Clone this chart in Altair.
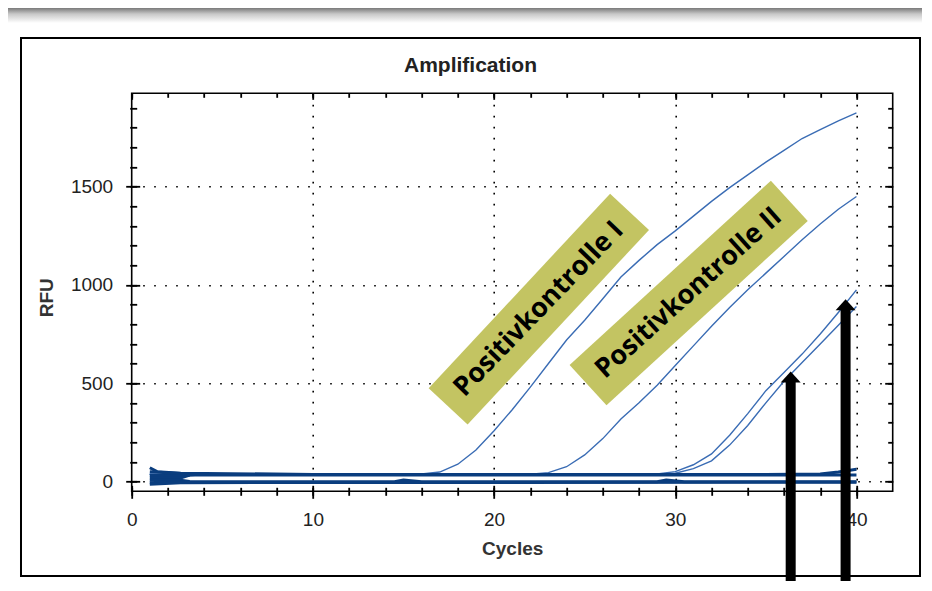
import altair as alt
import pandas as pd

# ---------------- data ----------------
cycles = list(range(1, 41))

pos_ctrl_1 = [38, 36, 35, 35, 36, 35, 35, 36, 35, 35, 36, 35, 35, 36, 36, 38,
              48, 88, 160, 258, 365, 480, 600, 720, 820, 930, 1040, 1125, 1205,
              1275, 1350, 1425, 1495, 1560, 1625, 1685, 1745, 1790, 1835, 1875]
pos_ctrl_2 = [36, 35, 35, 36, 35, 35, 35, 36, 35, 35, 35, 36, 35, 35, 35, 36,
              35, 35, 35, 36, 36, 37, 45, 75, 135, 218, 318, 400, 490, 590,
              690, 790, 885, 975, 1060, 1145, 1230, 1310, 1385, 1450]
sample_a = [36, 35, 35, 35, 36, 35, 35, 35, 36, 35, 35, 35, 36, 35, 35, 35,
            36, 35, 35, 35, 36, 35, 35, 35, 36, 35, 35, 36, 38,
            50, 85, 140, 235, 345, 462, 555, 648, 750, 860, 975]
sample_b = [35, 35, 36, 35, 35, 35, 36, 35, 35, 35, 36, 35, 35, 35, 36, 35,
            35, 35, 36, 35, 35, 35, 36, 35, 35, 35, 36, 35, 36,
            42, 65, 105, 185, 285, 400, 510, 605, 700, 795, 890]

# negative wells (flat baselines), sparse cycle / value pairs
neg1_cycle = [1, 1.4, 2.7, 10, 20, 30, 35, 38, 39, 40]
neg1_rfu = [70, 50, 42, 36, 36, 36, 36, 38, 48, 62]
neg2_cycle = [1, 2.7, 3.5, 40]
neg2_rfu = [30, 30, 33, 33]
neg3_cycle = [1, 2.7, 3.2]
neg3_rfu = [18, 18, 33]
neg4_cycle = [1, 2.7, 3.2]
neg4_rfu = [6, 6, 0]
neg5_cycle = [1, 2.7, 14.5, 15, 16, 29, 29.5, 30.5, 40]
neg5_rfu = [-6, -2, -1, 7, -1, -1, 8, -1, -1]
neg6_cycle = [1, 2.7, 40]
neg6_rfu = [-14, -6, -4]
neg7_cycle = [1, 2.7]
neg7_rfu = [50, 40]

label_texts = ["Positivkontrolle I", "Positivkontrolle II"]
label_cycle = [22.47, 30.74]
label_rfu = [877, 959]

arrow_cycle = [36.37, 39.4]
arrow_rfu = [559, 927]

x_major = [0, 10, 20, 30, 40]
x_minor = list(range(0, 41, 2))
y_major = [0, 500, 1000, 1500]
y_minor = list(range(0, 2000, 100))

# ---------------- tables ----------------
amp_rows = []
for name, vals in [("PK I", pos_ctrl_1), ("PK II", pos_ctrl_2),
                   ("Probe A", sample_a), ("Probe B", sample_b)]:
    for c, v in zip(cycles, vals):
        amp_rows.append({"series": name, "cycle": c, "rfu": v})
df_amp = pd.DataFrame(amp_rows)

neg_rows = []
for name, cs, vs in [("n1", neg1_cycle, neg1_rfu), ("n2", neg2_cycle, neg2_rfu),
                     ("n3", neg3_cycle, neg3_rfu), ("n4", neg4_cycle, neg4_rfu),
                     ("n5", neg5_cycle, neg5_rfu), ("n6", neg6_cycle, neg6_rfu),
                     ("n7", neg7_cycle, neg7_rfu)]:
    for c, v in zip(cs, vs):
        neg_rows.append({"series": name, "cycle": c, "rfu": v})
df_neg = pd.DataFrame(neg_rows)

df_lab = pd.DataFrame({"text": label_texts, "cycle": label_cycle, "rfu": label_rfu})
df_arr = pd.DataFrame({"cycle": arrow_cycle, "rfu": arrow_rfu})
one = pd.DataFrame({"k": [0]})

# ---------------- styling ----------------
FONT = "Liberation Sans"
W, H = 761, 398
PL, PT = 123.7, 85.3
PR, PB = 29.3, 89.7

xs = alt.Scale(domain=[0, 42], nice=False, zero=False)
ys = alt.Scale(domain=[-50, 1975], nice=False, zero=False)

tick_common = dict(domain=False, grid=False, tickColor="#000", tickWidth=1.8,
                   title=None)

ax_x_major = alt.Axis(orient="bottom", values=x_major, offset=-6, tickSize=13,
                      domain=False, grid=False, tickColor="#000", tickWidth=1.8,
                      labelFont=FONT, labelFontSize=19, labelColor="#222",
                      labelPadding=12, labelFlush=False, title="Cycles",
                      titleFont=FONT, titleFontSize=19, titleFontWeight="bold",
                      titleColor="#333", titlePadding=10)
ax_y_major = alt.Axis(orient="left", values=y_major, offset=-8, tickSize=14,
                      domain=False, grid=False, tickColor="#000", tickWidth=1.8,
                      labelFont=FONT, labelFontSize=19, labelColor="#222",
                      labelPadding=13, labelFlush=False, format="d", title="RFU",
                      titleFont=FONT, titleFontSize=19, titleFontWeight="bold",
                      titleColor="#333", titlePadding=14, titleY=204)
ax_x_minor = alt.Axis(orient="bottom", values=x_minor, offset=-4, tickSize=8,
                      labels=False, **tick_common)
ax_y_minor = alt.Axis(orient="left", values=y_minor, offset=-5, tickSize=7,
                      labels=False, **tick_common)
ax_x_top_minor = alt.Axis(orient="top", values=x_minor, offset=-4, tickSize=4,
                          labels=False, **tick_common)
ax_y_right_minor = alt.Axis(orient="right", values=y_minor, offset=-5, tickSize=5,
                            labels=False, **tick_common)
ax_x_top_major = alt.Axis(orient="top", values=x_major, offset=-6, tickSize=6,
                          labels=False, **tick_common)
ax_y_right_major = alt.Axis(orient="right", values=y_major, offset=-8, tickSize=8,
                            labels=False, **tick_common)
ax_x_grid = alt.Axis(orient="bottom", values=[10, 20, 30, 40], grid=True,
                     gridColor="#000", gridWidth=1.6, gridDash=[1.6, 9.4],
                     ticks=False, labels=False, domain=False, title=None)
ax_y_grid = alt.Axis(orient="left", values=y_major, grid=True,
                     gridColor="#000", gridWidth=1.6, gridDash=[1.6, 9.4],
                     ticks=False, labels=False, domain=False, title=None)

# ---------------- decorations ----------------
strip = alt.Chart(one).mark_rect(
    fill=alt.LinearGradient(gradient="linear", x1=0, y1=0, x2=0, y2=1,
                            stops=[alt.GradientStop(color="#7a7a7a", offset=0),
                                   alt.GradientStop(color="#c8c8c8", offset=0.4),
                                   alt.GradientStop(color="#ffffff", offset=1)])
).encode(x=alt.value(-PL), x2=alt.value(790.3), y=alt.value(-PT), y2=alt.value(-70.3))

frame = alt.Chart(one).mark_rect(fill="transparent", stroke="#000", strokeWidth=2).encode(
    x=alt.value(-110.7), x2=alt.value(788.3), y=alt.value(-55.3), y2=alt.value(482.7))

title = alt.Chart(one).mark_text(text="Amplification", font=FONT, fontSize=21,
                                 fontWeight="bold", color="#222",
                                 baseline="middle", align="center").encode(
    x=alt.value(338.8), y=alt.value(-27.3))

# ---------------- data layers ----------------
amp = alt.Chart(df_amp).mark_line(color="#3a6cb4", strokeWidth=1.4).encode(
    x=alt.X("cycle:Q", scale=xs, axis=ax_x_major),
    y=alt.Y("rfu:Q", scale=ys, axis=ax_y_major),
    detail="series:N")

neg = alt.Chart(df_neg).mark_line(color="#0a3d7e", strokeWidth=3).encode(
    x=alt.X("cycle:Q", scale=xs, axis=ax_x_minor),
    y=alt.Y("rfu:Q", scale=ys, axis=ax_y_minor),
    detail="series:N")

BOX = "M-1,-0.2L1,-0.2L1,0.2L-1,0.2Z"
box1 = alt.Chart(df_lab.iloc[[0]]).mark_point(
    shape=BOX, size=266 ** 2, angle=313, filled=True, fill="#c3c462",
    opacity=1, strokeWidth=0).encode(
    x=alt.X("cycle:Q", scale=xs, axis=ax_x_top_minor),
    y=alt.Y("rfu:Q", scale=ys, axis=ax_y_right_minor))
box2 = alt.Chart(df_lab.iloc[[1]]).mark_point(
    shape=BOX, size=273 ** 2, angle=317.5, filled=True, fill="#c3c462",
    opacity=1, strokeWidth=0).encode(
    x=alt.X("cycle:Q", scale=xs, axis=None),
    y=alt.Y("rfu:Q", scale=ys, axis=None))

txt1 = alt.Chart(df_lab.iloc[[0]]).mark_text(
    font="Open Sans", fontSize=27, fontWeight="bold", color="#000",
    angle=314, align="center", baseline="middle").encode(
    x=alt.X("cycle:Q", scale=xs, axis=ax_x_top_major),
    y=alt.Y("rfu:Q", scale=ys, axis=ax_y_right_major),
    text="text:N")
txt2 = alt.Chart(df_lab.iloc[[1]]).mark_text(
    font="Open Sans", fontSize=27, fontWeight="bold", color="#000",
    angle=318, align="center", baseline="middle").encode(
    x=alt.X("cycle:Q", scale=xs, axis=None),
    y=alt.Y("rfu:Q", scale=ys, axis=None),
    text="text:N")

shaft = alt.Chart(df_arr).mark_rule(color="#000", strokeWidth=10, yOffset=10,
                                    strokeCap="butt").encode(
    x=alt.X("cycle:Q", scale=xs, axis=ax_x_grid),
    y=alt.Y("rfu:Q", scale=ys, axis=ax_y_grid),
    y2=alt.value(495))
head = alt.Chart(df_arr).mark_point(shape="M0,0L1,1.1L-1,1.1Z", size=400,
                                    filled=True, fill="#000", opacity=1,
                                    strokeWidth=0).encode(
    x=alt.X("cycle:Q", scale=xs, axis=None),
    y=alt.Y("rfu:Q", scale=ys, axis=None))

chart = alt.layer(
    strip, frame, title, amp, neg, box1, box2, txt1, txt2, shaft, head
).resolve_axis(x="independent", y="independent").properties(
    width=W, height=H,
    autosize=alt.AutoSizeParams(type="none"),
    padding={"left": PL, "top": PT, "right": PR, "bottom": PB},
    background="#ffffff",
).configure_view(stroke="#000", strokeWidth=1.6)

chart.save("out.html", embed_options={"renderer": "svg", "actions": False})
